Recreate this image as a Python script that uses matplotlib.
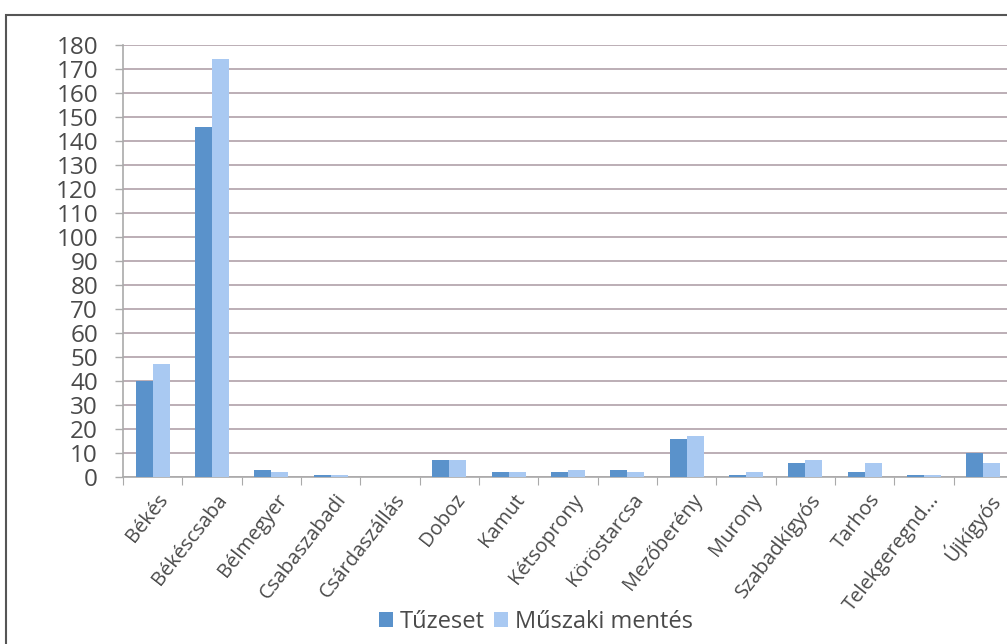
import matplotlib.pyplot as plt
import matplotlib.patches as patches
import matplotlib.transforms as mtrans
import numpy as np

plt.rcParams['font.family'] = ['Open Sans', 'DejaVu Sans']

# település nevek és értékek
telepulesek = ["Békés", "Békéscsaba", "Bélmegyer", "Csabaszabadi", "Csárdaszállás",
               "Doboz", "Kamut", "Kétsoprony", "Köröstarcsa", "Mezőberény",
               "Murony", "Szabadkígyós", "Tarhos", "Telekgeregnd...", "Újkígyós"]
tuzeset = [40, 146, 3, 1, 0, 7, 2, 2, 3, 16, 1, 6, 2, 1, 10]
muszaki = [47, 174, 2, 1, 0, 7, 2, 3, 2, 17, 2, 7, 6, 1, 6]
y_ticks = list(range(0, 181, 10))

sotet = "#5a92cb"
vilagos = "#a9c9f2"

fig = plt.figure(figsize=(10.07, 6.44), dpi=100)
ax = fig.add_axes([123 / 1007, 1 - 477 / 644, 890 / 1007, 432 / 644])

x = np.arange(len(telepulesek))
w = 0.285
ax.bar(x - w / 2, tuzeset, w, color=sotet, label="Tűzeset", zorder=3)
ax.bar(x + w / 2, muszaki, w, color=vilagos, label="Műszaki mentés", zorder=3)

ax.set_xlim(-0.5, len(telepulesek) - 0.5)
ax.set_ylim(0, 180)
ax.set_yticks(y_ticks)
ax.tick_params(axis='y', labelsize=17.5, length=6, width=1,
               pad=12, labelcolor="#4a4a4a", color="#aaaaaa")
ax.grid(axis='y', color="#bcaeb5", linewidth=1.4, zorder=0)

ax.set_xticks(np.arange(-0.5, len(telepulesek), 1))
ax.set_xticklabels([])
ax.tick_params(axis='x', length=6, color="#aaaaaa")
ax.set_xticks(x, minor=True)
ax.set_xticklabels(telepulesek, minor=True, rotation=52, ha='right', va='center',
                   rotation_mode='anchor', fontsize=14.5, color="#4a4a4a")
ax.tick_params(axis='x', which='minor', length=0, pad=14)
eltol = mtrans.ScaledTranslation(12 / 100, 0, fig.dpi_scale_trans)
for lab in ax.get_xticklabels(minor=True):
    lab.set_transform(lab.get_transform() + eltol)

for s in ["top", "right"]:
    ax.spines[s].set_visible(False)
ax.spines["left"].set_color("#aaaaaa")
ax.spines["bottom"].set_color("#aaaaaa")
ax.spines["left"].set_linewidth(1.2)
ax.spines["bottom"].set_linewidth(1.2)

leg = fig.legend(loc='center', bbox_to_anchor=(536 / 1007, 1 - 622 / 644), ncol=2,
                 frameon=False, fontsize=17, handlelength=0.6, handleheight=0.6,
                 handletextpad=0.3, columnspacing=0.4, labelcolor="#4a4a4a")

# keret
fig.patches.append(patches.Rectangle((6 / 1007, -0.1), 1.1, 1.1 - 15 / 644,
                                     transform=fig.transFigure, fill=False,
                                     edgecolor="#555555", linewidth=1.5))

fig.savefig("out.png", dpi=100)
